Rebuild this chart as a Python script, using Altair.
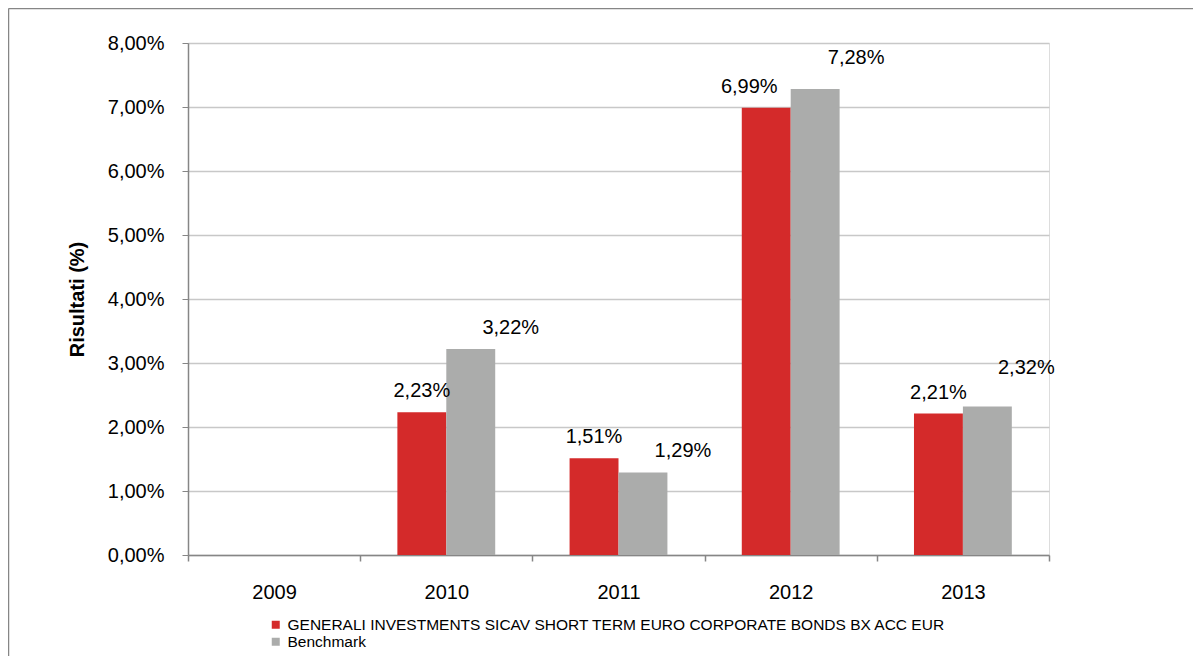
import altair as alt
import pandas as pd

FONT = "Liberation Sans"

years = ["2009", "2010", "2011", "2012", "2013"]
fund = [None, 2.23, 1.51, 6.99, 2.21]
bench = [None, 3.22, 1.29, 7.28, 2.32]
series = ["GENERALI INVESTMENTS SICAV SHORT TERM EURO CORPORATE BONDS BX ACC EUR", "Benchmark"]
colors = ["#d42a2a", "#abacab"]
y_ticks = [0, 1, 2, 3, 4, 5, 6, 7, 8]
y_title = "Risultati (%)"

rows = []
for i, yr in enumerate(years):
    rows.append({"year": yr, "series": series[0], "value": fund[i]})
    rows.append({"year": yr, "series": series[1], "value": bench[i]})
df = pd.DataFrame(rows)

x_enc = alt.X(
    "year:N",
    scale=alt.Scale(domain=years, paddingInner=0, paddingOuter=0),
    axis=alt.Axis(
        title=None, labelAngle=0, tickBand="extent", grid=False,
        domainColor="#868686", domainWidth=1.5, tickColor="#868686", tickWidth=1.5,
        tickSize=6, labelPadding=21, labelFontSize=20, labelColor="#000000", labelFont=FONT,
    ),
)
xo_enc = alt.XOffset("series:N", scale=alt.Scale(domain=series, paddingInner=0, paddingOuter=0.76))
y_enc = alt.Y(
    "value:Q",
    scale=alt.Scale(domain=[0, 8], nice=False, zero=True),
    axis=alt.Axis(
        values=y_ticks, title=y_title,
        labelExpr="replace(format(datum.value, '.2f'), '.', ',') + '%'",
        domainColor="#868686", domainWidth=1.5, tickColor="#868686", tickWidth=1,
        tickSize=6, labelPadding=18, labelFontSize=20, labelColor="#000000", labelFont=FONT,
        gridColor="#c8c8c8", gridWidth=1.5,
        titleFontSize=20, titleFontWeight="bold", titleFont=FONT, titleColor="#000000", titlePadding=20,
    ),
)
color_enc = alt.Color(
    "series:N",
    scale=alt.Scale(domain=series, range=colors),
    legend=alt.Legend(
        title=None, orient="none", legendX=80, legendY=574, direction="vertical",
        symbolType="square", symbolSize=64, symbolStrokeWidth=0, symbolOpacity=1,
        labelFontSize=15.5, labelFont=FONT, labelColor="#000000", labelOffset=4,
        rowPadding=0, labelLimit=900,
    ),
)

valid = alt.Chart(df).transform_filter("isValid(datum.value)")

bars = valid.mark_bar().encode(x=x_enc, xOffset=xo_enc, y=y_enc, color=color_enc)


def labels(expr, dx, dy):
    return (
        valid.transform_filter(expr)
        .transform_calculate(label="replace(format(datum.value, '.2f'), '.', ',') + '%'")
        .mark_text(dx=dx, dy=dy, baseline="alphabetic", align="center", fontSize=20, font=FONT, color="#000000")
        .encode(x=x_enc, xOffset=xo_enc, y=y_enc, text="label:N")
    )


lab_layers = [
    labels("datum.series != 'Benchmark' && datum.year != '2012'", 0, -15),
    labels("datum.series != 'Benchmark' && datum.year == '2012'", -17, -15),
    labels("datum.series == 'Benchmark' && (datum.year == '2010' || datum.year == '2011')", 40, -15),
    labels("datum.series == 'Benchmark' && datum.year == '2012'", 41, -25),
    labels("datum.series == 'Benchmark' && datum.year == '2013'", 39, -33),
]

frame_df = pd.DataFrame({"k": [0]})
top_rule = alt.Chart(frame_df).mark_rule(color="#868686", strokeWidth=1.5).encode(
    x=alt.value(-179.5), x2=alt.value(1010), y=alt.value(-34.5)
)
left_rule = alt.Chart(frame_df).mark_rule(color="#868686", strokeWidth=1.5).encode(
    x=alt.value(-179.5), y=alt.value(-34.5), y2=alt.value(620)
)

chart = (
    alt.layer(bars, *lab_layers, top_rule, left_rule)
    .properties(
        width=861, height=512,
        padding={"left": 180, "top": 35, "right": 144, "bottom": 101},
        autosize=alt.AutoSizeParams(type="none"),
    )
    .configure_view(stroke=None)
    .configure(font=FONT, background="#ffffff")
)

chart.save("out.html", embed_options={"renderer": "svg", "actions": False})
